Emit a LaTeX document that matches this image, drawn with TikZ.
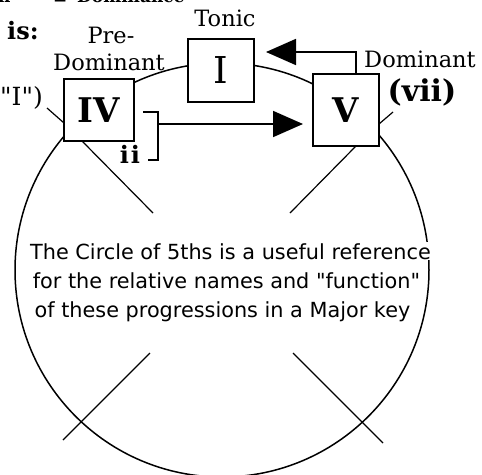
\documentclass[tikz,border=0pt]{standalone}
\usepackage{fontspec}
\setmainfont{DejaVu Serif}
\newfontfamily\parfont{DejaVu Sans}
\newfontfamily\plainserif{DejaVu Serif}
\usetikzlibrary{arrows.meta}
\tikzset{
  box/.style={draw, line width=1.6pt, fill=white, inner sep=0pt},
  lab/.style={font=\fontsize{22.5}{26}\selectfont, inner sep=0pt, anchor=base},
  bold/.style={font=\bfseries\fontsize{#1}{#1}\selectfont, inner sep=0pt},
  roman/.style={font=\fontsize{#1}{#1}\selectfont, inner sep=0pt},
  para/.style={font=\parfont\fontsize{20.8}{24}\selectfont, fill=white, inner sep=1pt, anchor=base},
  tickline/.style={line width=1.2pt},
  rim/.style={line width=1.5pt},
  arr/.style={line width=1.8pt, -{Triangle[length=30pt,width=26pt]}},
  bracketline/.style={line width=1.6pt}
}
\begin{document}
\begin{tikzpicture}[x=1pt,y=-1pt]
\useasboundingbox (0,0) rectangle (482,474);
% circle of fifths
\draw[rim] (222,270) circle[radius=207pt];
% ticks
\coordinate (tLa) at (47,108);   \coordinate (tLb) at (64,123);
\coordinate (tIVa) at (82,141);  \coordinate (tIVb) at (153,213);
\coordinate (tVa) at (356,146);  \coordinate (tVb) at (290,213);
\coordinate (tRa) at (379,124);  \coordinate (tRb) at (393,112);
\coordinate (tBLa) at (150,353); \coordinate (tBLb) at (63,440);
\coordinate (tBRa) at (293,353); \coordinate (tBRb) at (383,443);
\draw[tickline] (tLa) -- (tLb);
\draw[tickline] (tIVa) -- (tIVb);
\draw[tickline] (tVa) -- (tVb);
\draw[tickline] (tRa) -- (tRb);
\draw[tickline] (tBLa) -- (tBLb);
\draw[tickline] (tBRa) -- (tBRb);
% paragraph
\node[para] (p1) at (230.5,259) {The Circle of 5ths is a useful reference};
\node[para] (p2) at (226.5,288) {for the relative names and "function"};
\node[para] (p3) at (222.5,317) {of these progressions in a Major key};
% boxes
\node[box, minimum width=70pt, minimum height=62pt, bold=34] (IV) at (99,110) {IV};
\node[box, minimum width=66pt, minimum height=63pt, roman=37] (I) at (221,70.5) {I};
\node[box, minimum width=66pt, minimum height=72pt, bold=34] (V) at (346,110) {V};
% labels
\node[lab] (tonic) at (225,26) {Tonic};
\node[lab] (pre) at (111,43) {Pre-};
\node[lab] (domL) at (109,70) {Dominant};
\node[lab] (domR) at (420,67) {Dominant};
\node[bold=30, anchor=base] (vii) at (422,101) {(vii)};
\node[bold=24, anchor=base] (ii) at (130,163) {i\kern2pt i};
\node[bold=24, anchor=base west] (is) at (7,39) {is:};
\node[font=\plainserif\fontsize{25}{25}\selectfont, inner sep=0pt, anchor=base east] (oneq) at (43,105) {("I")};
% cut-off top line
\node[bold=17, anchor=base west] (topa) at (-2,2.5) {n};
\node[bold=17, anchor=base west] (topb) at (53,4.5) {=};
\node[bold=17, anchor=base west] (topc) at (77,2.5) {Dominance};
% bracket and arrows
\coordinate (brA) at (143,112);
\coordinate (brB) at (158,112);
\coordinate (brM) at (158,124);
\coordinate (brC) at (158,160);
\coordinate (brD) at (148,160);
\draw[bracketline] (brA) -- (brB) -- (brC) -- (brD);
\coordinate (tipL) at (303,124);
\draw[arr] (brM) -- (tipL);
\coordinate (vTop) at (356,74);
\coordinate (tipU) at (266,52);
\draw[arr] (vTop) |- (tipU);
\end{tikzpicture}
\end{document}
